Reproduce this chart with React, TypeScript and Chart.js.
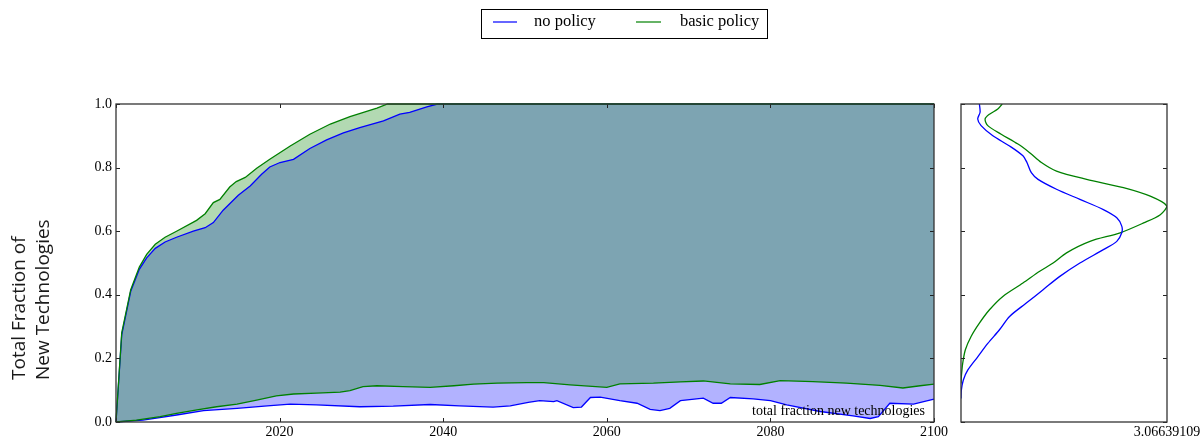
import React, { useEffect, useRef } from "react";
import { Chart, registerables } from "chart.js";

Chart.register(...registerables);

// ---------------- data ----------------
const seriesNames = ["no policy", "basic policy"];

const xTickValues = [2000, 2020, 2040, 2060, 2080, 2100];
const xTickLabels = ["", "2020", "2040", "2060", "2080", "2100"];
const yTickValues = [0, 0.2, 0.4, 0.6, 0.8, 1.0];
const yTickLabels = ["0.0", "0.2", "0.4", "0.6", "0.8", "1.0"];
const yAxisTitle = ["Total Fraction of", "New Technologies"];
const annotationText = "total fraction new technologies";
const densityMax = 3.06639109;
const densityMaxLabel = "3.06639109";

// no policy: upper bound
const noPolicyUpperYears = [2000, 2000.7, 2001.8, 2002.85, 2003.75, 2004.8, 2006, 2007.4, 2009.45, 2010.9, 2011.9, 2013.1, 2014.95, 2016.4, 2017.8, 2018.8, 2020.05, 2021.7, 2023.7, 2025.75, 2027.8, 2029.8, 2032.7, 2034.7, 2035.9, 2038, 2039.3, 2100];
const noPolicyUpper = [0, 0.274, 0.411, 0.48, 0.516, 0.546, 0.566, 0.581, 0.6, 0.611, 0.627, 0.666, 0.713, 0.742, 0.779, 0.802, 0.816, 0.826, 0.86, 0.887, 0.909, 0.926, 0.947, 0.968, 0.974, 0.991, 1.0, 1.0];

// no policy: lower bound
const noPolicyLowerYears = [2000, 2003.3, 2007.4, 2010.7, 2014.8, 2018.5, 2021.3, 2024.5, 2029.8, 2033.9, 2038.4, 2042, 2046.1, 2048.2, 2050.4, 2051.8, 2053.5, 2053.9, 2055.9, 2056.9, 2058, 2059.2, 2061.6, 2063.7, 2065.3, 2066.5, 2067.7, 2069, 2071.8, 2073, 2074, 2075.1, 2077.9, 2080, 2082, 2086.1, 2090.1, 2092.2, 2093.2, 2094.6, 2097.5, 2100];
const noPolicyLower = [0, 0.006, 0.022, 0.036, 0.043, 0.051, 0.056, 0.054, 0.048, 0.05, 0.055, 0.051, 0.047, 0.051, 0.062, 0.067, 0.064, 0.067, 0.045, 0.047, 0.077, 0.078, 0.067, 0.059, 0.04, 0.036, 0.043, 0.067, 0.075, 0.059, 0.059, 0.077, 0.073, 0.067, 0.054, 0.033, 0.019, 0.011, 0.017, 0.059, 0.056, 0.072];

// basic policy: upper bound
const basicUpperYears = [2000, 2000.7, 2001.8, 2002.85, 2003.75, 2004.8, 2006, 2007.4, 2009.85, 2010.9, 2011.9, 2012.7, 2013.9, 2014.7, 2015.8, 2017.2, 2018.8, 2021.3, 2023.7, 2026.2, 2028.6, 2031.9, 2033.2, 2100];
const basicUpper = [0, 0.28, 0.416, 0.487, 0.527, 0.559, 0.581, 0.6, 0.634, 0.655, 0.69, 0.7, 0.739, 0.756, 0.769, 0.798, 0.826, 0.868, 0.905, 0.937, 0.96, 0.987, 1.0, 1.0];

// basic policy: lower bound
const basicLowerYears = [2000, 2002.5, 2005.4, 2007.4, 2009.9, 2012.3, 2014.8, 2017.2, 2019.6, 2021.7, 2024.5, 2027.4, 2028.6, 2030.2, 2031.9, 2035.1, 2038.4, 2041.3, 2043.7, 2046.6, 2050.2, 2052.3, 2055.5, 2060, 2061.6, 2065.7, 2069, 2071.8, 2075.1, 2078.7, 2081.2, 2085.2, 2089.3, 2093.4, 2096.2, 2098.3, 2100];
const basicLower = [0, 0.006, 0.017, 0.027, 0.038, 0.048, 0.056, 0.069, 0.082, 0.088, 0.091, 0.094, 0.099, 0.111, 0.114, 0.111, 0.109, 0.114, 0.119, 0.122, 0.124, 0.124, 0.117, 0.109, 0.12, 0.122, 0.126, 0.129, 0.12, 0.118, 0.13, 0.127, 0.122, 0.115, 0.107, 0.114, 0.119];

// side panel: distribution of final fraction
const noPolicyDensityLevels = [1.0, 0.974, 0.953, 0.932, 0.9, 0.868, 0.837, 0.816, 0.784, 0.763, 0.732, 0.7, 0.668, 0.642, 0.616, 0.595, 0.568, 0.542, 0.5, 0.458, 0.416, 0.374, 0.332, 0.29, 0.247, 0.205, 0.163, 0.132, 0.1, 0.074];
const noPolicyDensity = [0.274, 0.284, 0.249, 0.299, 0.474, 0.723, 0.922, 0.982, 1.047, 1.147, 1.421, 1.77, 2.119, 2.319, 2.393, 2.393, 2.319, 2.119, 1.77, 1.471, 1.222, 0.972, 0.723, 0.573, 0.399, 0.249, 0.1, 0.035, 0.005, 0];
const basicDensityLevels = [1.0, 0.984, 0.968, 0.953, 0.932, 0.905, 0.874, 0.847, 0.816, 0.789, 0.763, 0.737, 0.71, 0.679, 0.652, 0.626, 0.595, 0.568, 0.532, 0.5, 0.474, 0.437, 0.395, 0.353, 0.311, 0.269, 0.227, 0.184, 0.142, 0.121];
const basicDensity = [0.613, 0.548, 0.424, 0.359, 0.399, 0.598, 0.848, 1.022, 1.197, 1.421, 1.87, 2.418, 2.817, 3.066, 2.967, 2.718, 2.369, 1.92, 1.571, 1.371, 1.172, 0.922, 0.623, 0.424, 0.274, 0.15, 0.065, 0.025, 0.005, 0];

// ---------------- styles ----------------
const BLUE = "#0000ff";
const GREEN = "#008000";
const BLUE_FILL = "rgba(0,0,255,0.3)";
const GREEN_FILL = "rgba(0,128,0,0.3)";
const SERIF = '"Liberation Serif", "Times New Roman", serif';
const SANS = '"Open Sans", sans-serif';

const toPts = (xs: number[], ys: number[]) => xs.map((x, i) => ({ x, y: ys[i] }));

function frameTicksPlugin(xTicks: number[], yTicks: number[], tickLen = 4) {
  return {
    id: "frameTicks",
    afterDatasetsDraw(chart: any) {
      const { ctx, chartArea: a, scales } = chart;
      const xs = scales.x;
      const ys = scales.y;
      ctx.save();
      ctx.strokeStyle = "#222";
      ctx.lineWidth = 1;
      ctx.beginPath();
      for (const v of xTicks) {
        const px = Math.round(xs.getPixelForValue(v)) + 0.5;
        ctx.moveTo(px, a.bottom);
        ctx.lineTo(px, a.bottom - tickLen);
        ctx.moveTo(px, a.top);
        ctx.lineTo(px, a.top + tickLen);
      }
      for (const v of yTicks) {
        const py = Math.round(ys.getPixelForValue(v)) + 0.5;
        ctx.moveTo(a.left, py);
        ctx.lineTo(a.left + tickLen, py);
        ctx.moveTo(a.right, py);
        ctx.lineTo(a.right - tickLen, py);
      }
      ctx.stroke();
      ctx.lineWidth = 1.3;
      ctx.strokeStyle = "#333";
      ctx.strokeRect(a.left, a.top, a.right - a.left, a.bottom - a.top);
      ctx.restore();
    },
  };
}

const mainTextPlugin = {
  id: "mainText",
  afterDraw(chart: any) {
    const { ctx, chartArea: a } = chart;
    ctx.save();
    ctx.fillStyle = "#000";
    ctx.font = `14px ${SERIF}`;
    ctx.textAlign = "right";
    ctx.textBaseline = "alphabetic";
    ctx.fillText(annotationText, a.right - 9, a.bottom - 7);
    ctx.fillStyle = "#1a1a1a";
    ctx.font = `19px ${SANS}`;
    ctx.textAlign = "left";
    const baseX = [25, 48.5];
    yAxisTitle.forEach((line, i) => {
      ctx.save();
      ctx.translate(baseX[i], 380);
      ctx.rotate(-Math.PI / 2);
      ctx.fillText(line, 0, 0);
      ctx.restore();
    });
    ctx.restore();
  },
};

const lineDs = (label: string, data: any[], color: string, fill: any, bg?: string) => ({
  label,
  data,
  borderColor: color,
  backgroundColor: bg || "transparent",
  borderWidth: 1.3,
  pointRadius: 0,
  tension: 0,
  fill,
  clip: 3,
});

export default function App() {
  const mainRef = useRef<HTMLCanvasElement>(null);
  const sideRef = useRef<HTMLCanvasElement>(null);

  useEffect(() => {
    const tickFont = { family: SERIF, size: 14 };
    // Datasets with lower index are drawn last (on top): green over blue.
    const main = new Chart(mainRef.current as HTMLCanvasElement, {
      type: "line",
      data: {
        datasets: [
          lineDs(seriesNames[1] + " lower", toPts(basicLowerYears, basicLower), GREEN, false),
          lineDs(seriesNames[1], toPts(basicUpperYears, basicUpper), GREEN, 0, GREEN_FILL),
          lineDs(seriesNames[0] + " lower", toPts(noPolicyLowerYears, noPolicyLower), BLUE, false),
          lineDs(seriesNames[0], toPts(noPolicyUpperYears, noPolicyUpper), BLUE, 2, BLUE_FILL),
        ] as any,
      },
      options: {
        responsive: false,
        animation: false,
        layout: { padding: { top: 104, right: 15, left: 0, bottom: 0 } },
        plugins: {
          legend: { display: false },
          tooltip: { enabled: false },
          filler: { propagate: false, drawTime: "beforeDatasetsDraw" },
        } as any,
        scales: {
          x: {
            type: "linear",
            min: 2000,
            max: 2100,
            grid: { display: false, drawTicks: false },
            border: { display: false },
            afterBuildTicks: (s: any) => {
              s.ticks = xTickValues.map((v) => ({ value: v }));
            },
            afterFit: (s: any) => {
              s.height = 17;
            },
            ticks: {
              autoSkip: false,
              maxRotation: 0,
              padding: 2,
              color: "#000",
              font: tickFont,
              callback: (v: any) => xTickLabels[xTickValues.indexOf(Number(v))] ?? "",
            },
          },
          y: {
            type: "linear",
            min: 0,
            max: 1,
            grid: { display: false, drawTicks: false },
            border: { display: false },
            afterBuildTicks: (s: any) => {
              s.ticks = yTickValues.map((v) => ({ value: v }));
            },
            afterFit: (s: any) => {
              s.width = 116;
            },
            ticks: {
              padding: 4,
              color: "#000",
              font: tickFont,
              callback: (v: any) => {
                const i = yTickValues.findIndex((t) => Math.abs(t - Number(v)) < 1e-6);
                return i >= 0 ? yTickLabels[i] : "";
              },
            },
          },
        } as any,
      },
      plugins: [frameTicksPlugin(xTickValues, yTickValues), mainTextPlugin],
    } as any);

    const side = new Chart(sideRef.current as HTMLCanvasElement, {
      type: "scatter",
      data: {
        datasets: [
          {
            label: seriesNames[0],
            data: toPts(noPolicyDensity, noPolicyDensityLevels),
            showLine: true,
            borderColor: BLUE,
            borderWidth: 1.3,
            pointRadius: 0,
            tension: 0.3,
            fill: false,
          },
          {
            label: seriesNames[1],
            data: toPts(basicDensity, basicDensityLevels),
            showLine: true,
            borderColor: GREEN,
            borderWidth: 1.3,
            pointRadius: 0,
            tension: 0.3,
            fill: false,
          },
        ] as any,
      },
      options: {
        responsive: false,
        animation: false,
        layout: { padding: { top: 104, right: 36, left: 10, bottom: 0 } },
        plugins: { legend: { display: false }, tooltip: { enabled: false } },
        scales: {
          x: {
            type: "linear",
            min: 0,
            max: densityMax,
            grid: { display: false, drawTicks: false },
            border: { display: false },
            afterBuildTicks: (s: any) => {
              s.ticks = [{ value: densityMax }];
            },
            afterFit: (s: any) => {
              s.height = 17;
            },
            ticks: {
              autoSkip: false,
              maxRotation: 0,
              padding: 2,
              color: "#000",
              font: tickFont,
              callback: () => densityMaxLabel,
            },
          },
          y: { type: "linear", min: 0, max: 1, display: false },
        } as any,
      },
      plugins: [frameTicksPlugin([], yTickValues)],
    } as any);

    return () => {
      main.destroy();
      side.destroy();
    };
  }, []);

  const legendText: React.CSSProperties = {
    position: "absolute",
    fontFamily: SERIF,
    fontSize: 16.5,
    lineHeight: "16.5px",
    color: "#000",
    whiteSpace: "nowrap",
  };

  return (
    <div style={{ position: "absolute", left: 0, top: 0, width: 1203, height: 439, background: "#fff", overflow: "hidden" }}>
      <canvas ref={mainRef} width={950} height={439} style={{ position: "absolute", left: 0, top: 0 }} />
      <canvas ref={sideRef} width={252} height={439} style={{ position: "absolute", left: 951, top: 0 }} />
      <div style={{ position: "absolute", left: 481, top: 9, width: 287, height: 30, border: "1px solid #000", boxSizing: "border-box" }} />
      <div style={{ position: "absolute", left: 493, top: 21, width: 24, height: 2, background: "rgba(0,0,255,0.6)" }} />
      <span style={{ ...legendText, left: 534, top: 13 }}>{seriesNames[0]}</span>
      <div style={{ position: "absolute", left: 636, top: 21, width: 25, height: 2, background: "rgba(0,128,0,0.6)" }} />
      <span style={{ ...legendText, left: 680, top: 13 }}>{seriesNames[1]}</span>
    </div>
  );
}
